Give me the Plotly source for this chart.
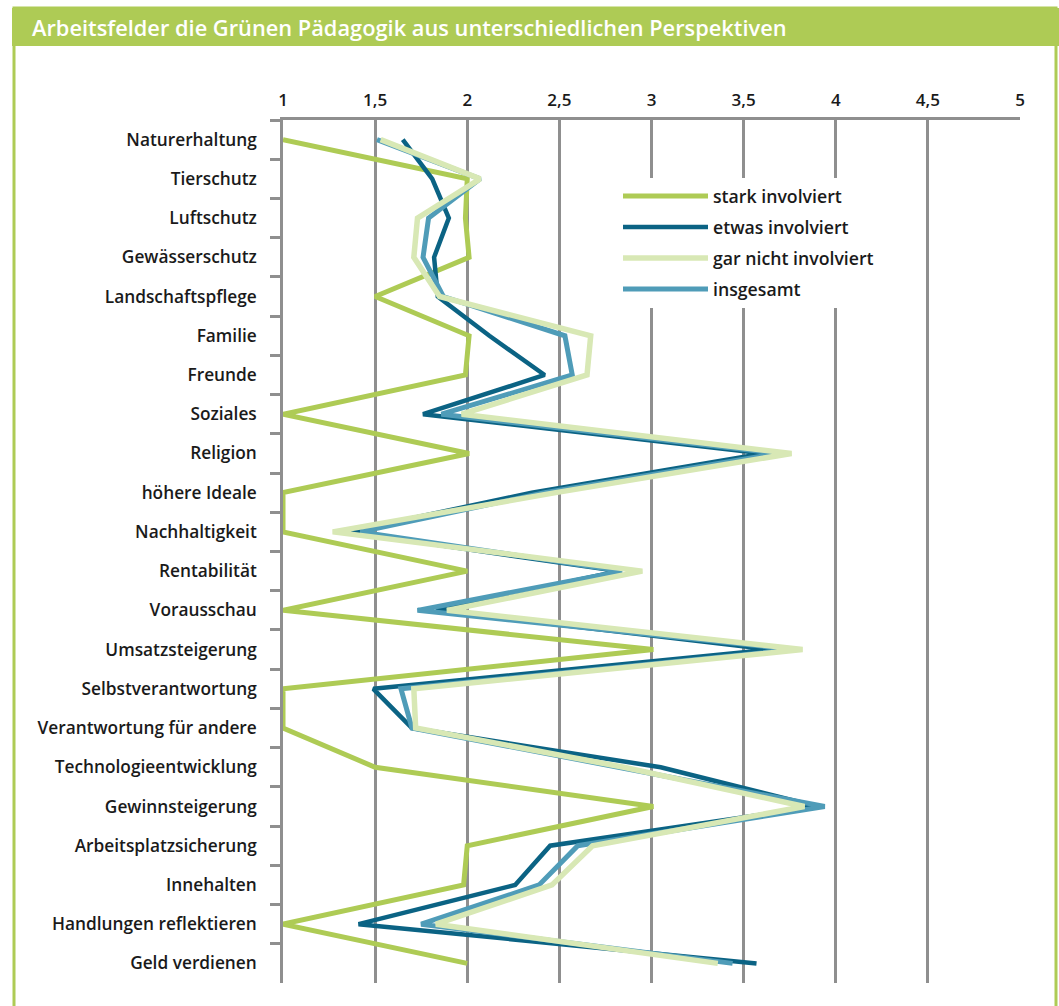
import plotly.graph_objects as go

# ---------------- data ----------------
categories = [
    "Naturerhaltung", "Tierschutz", "Luftschutz", "Gewässerschutz",
    "Landschaftspflege", "Familie", "Freunde", "Soziales", "Religion",
    "höhere Ideale", "Nachhaltigkeit", "Rentabilität", "Vorausschau",
    "Umsatzsteigerung", "Selbstverantwortung", "Verantwortung für andere",
    "Technologieentwicklung", "Gewinnsteigerung", "Arbeitsplatzsicherung",
    "Innehalten", "Handlungen reflektieren", "Geld verdienen",
]

stark_involviert = [1.0, 2.0, 1.99, 2.01, 1.5, 2.01, 1.99, 1.0, 2.01, 1.0, 1.0,
                    2.0, 1.0, 3.01, 1.0, 1.0, 1.5, 3.01, 2.0, 1.98, 1.0, 2.0]
etwas_involviert = [1.65, 1.81, 1.90, 1.82, 1.84, 2.12, 2.42, 1.76, 3.61, 2.35, 1.35,
                    2.82, 1.83, 3.65, 1.49, 1.70, 3.05, 3.90, 2.45, 2.26, 1.41, 3.57]
gar_nicht_involviert = [1.53, 2.07, 1.73, 1.71, 1.85, 2.67, 2.65, 1.97, 3.76, 2.48, 1.27,
                        2.95, 1.89, 3.82, 1.71, 1.72, 2.85, 3.83, 2.68, 2.46, 1.83, 3.36]
insgesamt = [1.51, 2.07, 1.79, 1.76, 1.87, 2.53, 2.57, 1.86, 3.69, 2.42, 1.42,
             2.84, 1.73, 3.78, 1.64, 1.70, 2.82, 3.94, 2.60, 2.39, 1.75, 3.44]

x_tickvals = [1, 1.5, 2, 2.5, 3, 3.5, 4, 4.5, 5]
x_ticktext = ["1", "1,5", "2", "2,5", "3", "3,5", "4", "4,5", "5"]

title_text = "Arbeitsfelder die Grünen Pädagogik aus unterschiedlichen Perspektiven"

# ---------------- style ----------------
W, H = 1059, 1006
ML, MR, MT, MB = 283, 39, 120, 23
PW, PH = W - ML - MR, H - MT - MB

GREEN = "#aecb55"
DARK = "#0b6384"
PALE = "#d8e8b5"
MID = "#4f9cb8"
GRID = "#8f8f8f"
TEXT = "#1a1a1a"
FONT = "Open Sans"


def px(x):
    return (x - ML) / PW


def py(y):
    return (H - MB - y) / PH


fig = go.Figure()

series = [
    ("stark involviert", stark_involviert, GREEN, 5, 1),
    ("etwas involviert", etwas_involviert, DARK, 4.5, 2),
    ("insgesamt", insgesamt, MID, 5, 4),
    ("gar nicht involviert", gar_nicht_involviert, PALE, 5.5, 3),
]
for name, vals, color, w, rank in series:
    fig.add_trace(go.Scatter(
        x=vals, y=categories, mode="lines", name=name,
        line=dict(color=color, width=w),
        legendrank=rank, legendgroup=name,
        hoverinfo="skip",
    ))

fig.update_layout(
    width=W, height=H,
    margin=dict(l=ML, r=MR, t=MT, b=MB, pad=0),
    paper_bgcolor="white", plot_bgcolor="white",
    font=dict(family=FONT, size=17, color=TEXT, weight=600),
    showlegend=True,
    legend=dict(
        x=px(618), y=py(178), xanchor="left", yanchor="top",
        bgcolor="white", borderwidth=0,
        font=dict(family=FONT, size=17.7, color=TEXT, weight=600),
        itemwidth=85, tracegroupgap=5,
        traceorder="grouped",
    ),
    xaxis=dict(
        side="top", range=[1, 5], tickvals=x_tickvals, ticktext=x_ticktext,
        showgrid=True, gridcolor=GRID, gridwidth=2.5,
        showline=True, linecolor=GRID, linewidth=2.5,
        zeroline=False, ticks="", ticklabelstandoff=4,
        tickfont=dict(family=FONT, size=17, color=TEXT, weight=600),
        fixedrange=True,
    ),
    yaxis=dict(
        type="category", categoryorder="array", categoryarray=categories,
        range=[len(categories) - 0.5, -0.5],
        showgrid=False, zeroline=False,
        showline=True, linecolor=GRID, linewidth=2.5,
        ticks="outside", tickson="boundaries", ticklen=10, tickwidth=2.5,
        tickcolor=GRID, ticklabelstandoff=20,
        tickfont=dict(family=FONT, size=17.3, color=TEXT, weight=600),
        fixedrange=True,
    ),
    shapes=[
        dict(type="rect", xref="paper", yref="paper",
             x0=px(14), x1=px(1056), y0=py(1012), y1=py(8),
             line=dict(color=GREEN, width=3), fillcolor="rgba(0,0,0,0)",
             layer="below"),
        dict(type="rect", xref="paper", yref="paper",
             x0=px(12), x1=px(1062), y0=py(46), y1=py(8),
             line=dict(width=0), fillcolor=GREEN, layer="below"),
    ],
    annotations=[
        dict(text=title_text, xref="paper", yref="paper",
             x=px(30), y=py(27), xanchor="left", yanchor="middle",
             showarrow=False,
             font=dict(family=FONT, size=21.8, color="white", weight=600)),
    ],
)

fig.write_html("out.html")
